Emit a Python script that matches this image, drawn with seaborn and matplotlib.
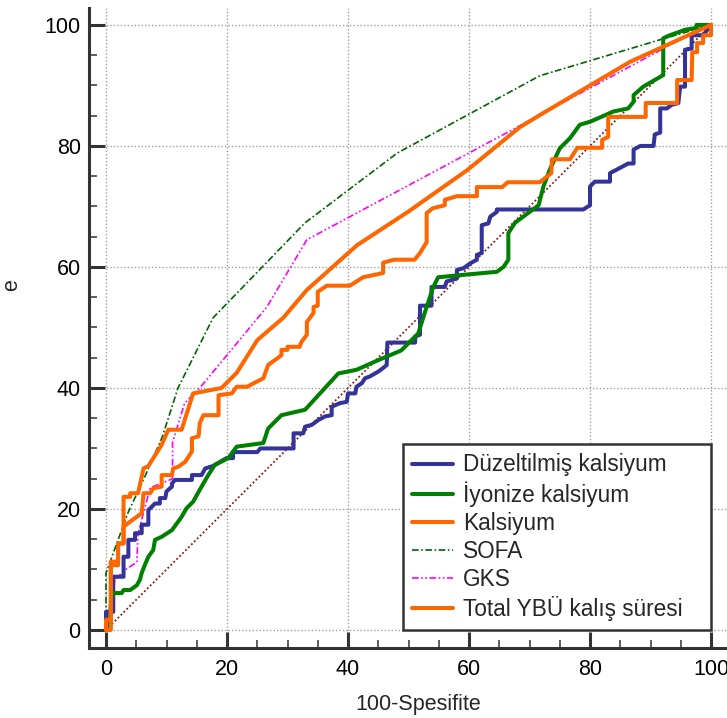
import numpy as np
import pandas as pd
import matplotlib
matplotlib.use("Agg")
import matplotlib.pyplot as plt
from matplotlib.ticker import MultipleLocator
import seaborn as sns

# ROC curves, x = 100-Spesifite, y = Duyarlılık
duz_x = [0, 0, 1.2, 1.2, 2.9, 2.9, 3.7, 3.7, 4.8, 4.8, 5.9, 5.9, 7.0, 7.0, 8.1, 8.9, 8.9, 9.8, 10.0,
         10.9, 10.9, 11.4, 14.2, 14.2, 15.8, 16.4, 17.7, 19.9, 21.0, 21.0, 25.0, 25.5, 31.0, 31.0, 32.6,
         32.9, 34.0, 35.1, 36.2, 37.3, 37.3, 38.7, 39.8, 40.0, 41.2, 41.4, 42.3, 42.8, 43.6, 45.0, 45.8,
         46.4, 46.5, 51.1, 51.1, 51.9, 51.9, 53.8, 53.8, 56.0, 56.3, 58.0, 58.0, 59.1, 60.2, 61.3, 61.3,
         62.1, 62.1, 63.2, 63.5, 64.6, 64.6, 78.9, 80.0, 80.0, 80.8, 83.3, 83.3, 85.2, 86.3, 87.2, 87.2,
         88.3, 90.5, 90.7, 91.6, 91.6, 92.7, 93.5, 94.6, 94.9, 95.7, 95.7, 96.8, 96.8, 98.7, 100]
duz_y = [0, 3.0, 3.0, 8.8, 8.8, 12.1, 12.1, 14.9, 14.9, 16.0, 16.0, 17.4, 17.4, 19.8, 20.9, 20.9, 21.8, 21.8, 22.9,
         23.7, 24.2, 24.8, 24.8, 25.6, 25.6, 26.7, 27.1, 28.4, 28.4, 29.4, 29.4, 30.0, 30.0, 32.5, 32.5,
         33.6, 33.9, 34.7, 35.3, 35.5, 36.9, 37.5, 37.7, 39.1, 39.1, 40.2, 40.8, 41.6, 41.9, 42.7, 43.3,
         43.8, 47.5, 47.5, 48.5, 48.8, 53.6, 53.6, 56.7, 56.7, 57.6, 58.1, 59.5, 59.8, 60.6, 61.2, 62.0,
         62.3, 66.9, 67.2, 68.3, 69.1, 69.5, 69.5, 70.2, 73.3, 74.1, 74.1, 75.5, 76.5, 77.1, 77.1, 79.4,
         80.0, 80.0, 81.9, 82.2, 86.2, 86.2, 86.8, 87.1, 89.8, 89.8, 95.9, 96.1, 98.3, 98.3, 100]

iyo_x = [0, 0.6, 0.9, 2.6, 2.9, 4.0, 5.1, 5.6, 5.9, 6.4, 7.0, 7.8, 8.1, 9.2, 10.9, 11.7, 12.5, 13.3, 14.4,
         15.8, 16.9, 18.0, 20.2, 21.6, 23.8, 26.0, 26.8, 29.0, 32.9, 38.4, 41.4, 45.0, 48.8, 51.6, 53.0,
         54.1, 54.9, 59.1, 64.6, 65.7, 66.5, 66.5, 67.6, 71.5, 72.3, 73.4, 75.0, 76.7, 78.3, 80.0, 83.9,
         86.3, 87.2, 87.2, 88.8, 90.7, 92.1, 92.1, 93.2, 94.9, 95.7, 97.6, 97.6, 100]
iyo_y = [0, 0.5, 6.1, 6.1, 6.6, 6.6, 7.4, 8.3, 9.4, 10.7, 12.1, 13.2, 14.9, 15.4, 16.5, 17.6, 18.7, 20.1, 21.2,
         23.7, 25.6, 27.3, 28.4, 30.3, 30.6, 30.9, 33.3, 35.5, 36.4, 42.4, 43.0, 44.6, 46.2, 49.0, 53.4,
         56.7, 58.3, 58.7, 59.2, 60.0, 61.2, 65.6, 67.3, 70.2, 73.3, 76.2, 79.6, 81.3, 83.5, 84.0, 85.7,
         86.2, 87.3, 88.4, 89.8, 90.9, 91.7, 97.8, 98.3, 98.9, 99.2, 99.5, 100, 100]

kal_x = [0, 0.8, 0.8, 2.0, 2.0, 2.9, 2.9, 5.9, 6.2, 7.3, 7.8, 9.2, 9.2, 10.9, 11.1, 12.0, 13.1, 14.2, 14.2,
         15.3, 15.5, 16.1, 18.6, 18.6, 20.8, 21.6, 23.3, 26.0, 26.8, 29.0, 29.0, 30.0, 30.0, 32.0, 32.3,
         33.2, 33.2, 34.3, 34.3, 35.0, 35.0, 36.5, 40.3, 42.5, 45.8, 45.8, 47.6, 51.0, 51.9, 53.0, 53.0,
         54.0, 56.0, 56.0, 58.0, 61.3, 61.3, 65.5, 66.4, 71.7, 73.6, 73.7, 76.7, 77.9, 82.0, 82.0, 83.0,
         83.0, 89.2, 89.2, 94.4, 94.4, 96.8, 96.9, 97.7, 97.7, 98.7, 98.7, 100, 100]
kal_y = [0, 0, 10.7, 10.7, 14.3, 14.3, 17.1, 19.3, 22.6, 22.6, 23.4, 23.7, 25.6, 25.6, 26.7, 27.0, 27.8, 29.5, 31.7,
         32.0, 34.2, 35.5, 35.5, 38.8, 39.1, 40.2, 40.2, 41.6, 43.8, 45.4, 46.3, 46.3, 46.8, 46.8, 47.6,
         48.8, 50.9, 52.4, 53.4, 53.6, 55.9, 56.9, 56.9, 58.3, 59.0, 60.7, 61.2, 61.2, 62.3, 64.1, 68.9,
         69.7, 70.2, 71.1, 71.7, 71.7, 73.2, 73.2, 74.0, 74.0, 75.5, 77.8, 77.8, 79.7, 79.7, 81.0, 81.5,
         84.8, 84.8, 87.1, 87.1, 90.9, 90.9, 95.5, 95.5, 97.0, 97.0, 98.3, 98.3, 100]

sofa_x = [0, 0, 3.6, 6.4, 9.3, 11.9, 17.7, 32.9, 48.1, 71.7, 92.4, 100]
sofa_y = [0, 9.4, 19.3, 25.3, 31.9, 40.0, 51.6, 67.3, 78.8, 91.6, 97.8, 100]

gks_x = [0, 1.5, 3.1, 5.1, 5.3, 7.3, 9.3, 11.0, 11.0, 13.0, 15.5, 26.6, 33.2, 71.7, 96.2, 100]
gks_y = [0, 8.3, 9.9, 11.2, 16.0, 23.5, 24.3, 25.0, 31.0, 37.5, 40.0, 53.4, 64.5, 85.1, 98.3, 100]

tot_x = [0, 0, 0.8, 0.8, 2.0, 2.0, 2.9, 2.9, 4.0, 4.0, 5.3, 6.2, 7.0, 9.2, 10.3, 12.5, 14.4, 19.1, 21.6,
         25.0, 29.3, 33.2, 41.5, 49.9, 59.7, 68.4, 71.7, 86.6, 100]
tot_y = [0, 1.7, 1.7, 11.3, 11.3, 14.3, 14.3, 22.0, 22.0, 22.6, 22.6, 26.7, 27.1, 30.6, 33.1, 33.1, 39.1, 40.0, 42.5,
         47.9, 51.6, 56.2, 63.6, 69.1, 76.0, 83.1, 85.1, 93.9, 100]

ref_x = [0, 100]
ref_y = [0, 100]

labels = ['Düzeltilmiş kalsiyum', 'İyonize kalsiyum', 'Kalsiyum', 'SOFA', 'GKS', 'Total YBÜ kalış süresi']

sns.set_style('white')
plt.rcParams['font.family'] = ['Liberation Sans', 'DejaVu Sans']

fig = plt.figure(figsize=(7.27, 7.18), dpi=100)
ax = fig.add_axes([89 / 727, 70 / 718, 638 / 727, 640 / 718])

dark = '#333333'


def draw(x, y, **kw):
    # one ROC curve, drawn in the order given (no sorting / aggregation)
    sns.lineplot(x=x, y=y, sort=False, estimator=None, ax=ax, **kw)
    return ax.lines[-1]


draw(ref_x, ref_y, color='#8b1a1a', lw=1.3, linestyle=(0, (1, 1.3)))
h_sofa = draw(sofa_x, sofa_y, color='#006400', lw=1.2, linestyle=(0, (4, 1.5, 1, 1.5)))
h_gks = draw(gks_x, gks_y, color='#ff00ff', lw=1.2, linestyle=(0, (4, 1.5, 1, 1.5, 1, 1.5)))
h_duz = draw(duz_x, duz_y, color='#333399', lw=2.9)
h_iyo = draw(iyo_x, iyo_y, color='#008000', lw=2.9)
h_kal = draw(kal_x, kal_y, color='#ff6600', lw=2.9)
h_tot = draw(tot_x, tot_y, color='#ff6600', lw=2.9)

ax.set_xlim(-2.81, 102.64)
ax.set_ylim(-2.98, 102.8)

ax.xaxis.set_major_locator(MultipleLocator(20))
ax.xaxis.set_minor_locator(MultipleLocator(5))
ax.yaxis.set_major_locator(MultipleLocator(20))
ax.yaxis.set_minor_locator(MultipleLocator(5))
# seaborn's white style switches ticks off, turn them back on
ax.tick_params(which='both', bottom=True, left=True, top=False, right=False)
ax.tick_params(which='major', direction='in', length=11.5, width=2.2, color=dark,
               labelsize=15.5, labelcolor='black')
ax.tick_params(axis='x', which='major', pad=8)
ax.tick_params(axis='y', which='major', pad=6)
ax.tick_params(which='minor', direction='in', length=5.8, width=1.1, color=dark)

for s in ['top', 'right']:
    ax.spines[s].set_visible(False)
for s in ['left', 'bottom']:
    ax.spines[s].set_linewidth(2.2)
    ax.spines[s].set_color(dark)

ax.grid(True, which='major', color='#a0a0a0', lw=1.0, linestyle=(0, (1, 1.5)))
ax.set_axisbelow(True)

ax.set_xlabel('100-Spesifite', fontsize=15.5)
ax.set_ylabel('e', fontsize=15.5)
ax.xaxis.set_label_coords(0.516, -0.072)
ax.xaxis.label.set_va('top')
ax.yaxis.set_label_coords(-0.105, 0.567)

leg = ax.legend([h_duz, h_iyo, h_kal, h_sofa, h_gks, h_tot], labels,
                loc='lower left', bbox_to_anchor=(49.1, 0, 50.9, 30), bbox_transform=ax.transData,
                mode='expand', borderaxespad=0, fontsize=16.3, frameon=True, fancybox=False,
                framealpha=1, edgecolor=dark, handlelength=1.8, handletextpad=0.45,
                labelspacing=0.22, borderpad=0.4)
leg.get_frame().set_linewidth(1.8)

plt.savefig('out.png', dpi=100)
